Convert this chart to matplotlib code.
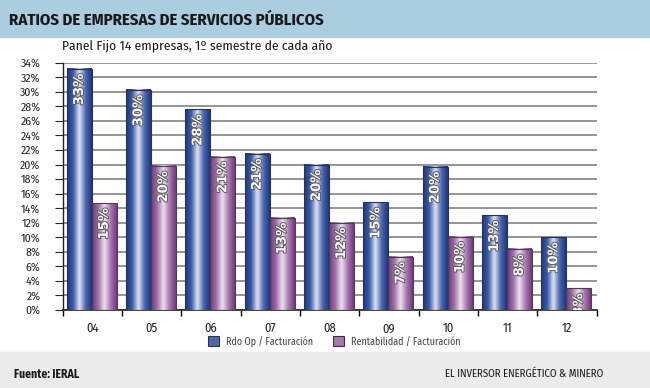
import numpy as np
import matplotlib
matplotlib.use("Agg")
import matplotlib.pyplot as plt
import matplotlib.patheffects as pe
from matplotlib.colors import LinearSegmentedColormap
from matplotlib.patches import Rectangle

years = ["04", "05", "06", "07", "08", "09", "10", "11", "12"]
rdo_op = [33.2, 30.3, 27.6, 21.5, 20.0, 14.8, 19.7, 13.0, 10.0]
rentab = [14.7, 19.8, 21.1, 12.7, 12.0, 7.3, 10.1, 8.4, 3.0]
rdo_labels = ["33%", "30%", "28%", "21%", "20%", "15%", "20%", "13%", "10%"]
rentab_labels = ["15%", "20%", "21%", "13%", "12%", "7%", "10%", "8%", "3%"]

plt.rcParams["font.family"] = ["Fira Sans Condensed", "Roboto Condensed", "DejaVu Sans"]

blue_cmap = LinearSegmentedColormap.from_list(
    "b", ["#1a3787", "#3a5cab", "#dfe3f0", "#4a68b0", "#1a3787"])
purple_cmap = LinearSegmentedColormap.from_list(
    "p", ["#74387f", "#a070a8", "#ece2ee", "#a877b0", "#74387f"])
grad = np.linspace(0, 1, 64).reshape(1, -1)

fig = plt.figure(figsize=(6.5, 3.88), dpi=100)

# header and footer bands
fig.patches.append(Rectangle((0, 1 - 37 / 388), 1, 37 / 388, transform=fig.transFigure,
                             color="#abcde0", zorder=0))
fig.patches.append(Rectangle((0, 0), 1, 36 / 388, transform=fig.transFigure,
                             color="#ebebeb", zorder=0))
fig.text(9 / 650, 1 - 20 / 388, "RATIOS DE EMPRESAS DE SERVICIOS PÚBLICOS",
         fontsize=12, fontweight="bold", color="#1a1a1a", va="center")
fig.text(61.5 / 650, 1 - 46 / 388, "Panel Fijo 14 empresas, 1º semestre de cada año",
         fontsize=9.8, color="#1a1a1a", va="center")
fig.text(14 / 650, 1 - 374 / 388, "Fuente: IERAL", fontsize=8.4, fontweight="bold",
         color="#1a1a1a", va="center")
fig.text(603 / 650, 1 - 374 / 388, "EL INVERSOR ENERGÉTICO & MINERO", fontsize=7.8,
         color="#1a1a1a", va="center", ha="right")

ax = fig.add_axes([62.7 / 650, 1 - 310 / 388, 533.8 / 650, 247.3 / 388])

x = np.arange(len(years))
w = 0.42
bars1 = ax.bar(x - w / 2 - 0.01, rdo_op, w, facecolor="none", edgecolor="#333333",
               linewidth=0.8, zorder=4)
bars2 = ax.bar(x + w / 2 - 0.01, rentab, w, facecolor="none", edgecolor="#444444",
               linewidth=0.8, zorder=4)

for bars, cmap, labels in [(bars1, blue_cmap, rdo_labels), (bars2, purple_cmap, rentab_labels)]:
    for b, lab in zip(bars, labels):
        x0, h, bw = b.get_x(), b.get_height(), b.get_width()
        ax.imshow(grad, cmap=cmap, extent=[x0, x0 + bw, 0, h], aspect="auto",
                  zorder=3, interpolation="bilinear")
        ax.text(x0 + bw / 2, h - 0.7, lab, rotation=90, ha="center", va="top",
                fontsize=9.5, fontweight="bold", color="white", zorder=5,
                family=["DejaVu Sans"], clip_on=True,
                path_effects=[pe.withStroke(linewidth=1.4, foreground="#5a5a5a")])

ax.set_xlim(-0.5, len(years) - 0.5)
ax.set_ylim(0, 34)

ax.set_yticks(np.arange(0, 35, 2))
ax.set_yticklabels([f"{v}%" for v in range(0, 35, 2)])
ax.yaxis.grid(True, color="#8c8c8c", linewidth=1.3, zorder=1)
ax.set_axisbelow(True)
ax.tick_params(axis="y", length=6, width=0.8, labelsize=8.5, colors="#222222", pad=10)

ax.set_xticks(x)
ax.set_xticklabels(years)
ax.set_xticks(np.arange(-0.5, len(years), 1), minor=True)
ax.tick_params(axis="x", which="major", length=0, labelsize=9, colors="#222222", pad=9)
ax.tick_params(axis="x", which="minor", length=4, width=1)

for s in ["top", "right"]:
    ax.spines[s].set_visible(False)
ax.spines["left"].set_color("#222222")
ax.spines["bottom"].set_color("#222222")
ax.spines["left"].set_linewidth(1)
ax.spines["bottom"].set_linewidth(1.2)

handles = [Rectangle((0, 0), 1, 1, facecolor="#4a68b0", edgecolor="#333333", linewidth=0.8),
           Rectangle((0, 0), 1, 1, facecolor="#a877b0", edgecolor="#333333", linewidth=0.8)]
fig.legend(handles, ["Rdo Op / Facturación", "Rentabilidad / Facturación"],
           loc="center", bbox_to_anchor=(334 / 650, 1 - 341 / 388), ncol=2,
           frameon=False, fontsize=7.2, labelcolor="#444444", handlelength=1.1,
           handleheight=1.2, handletextpad=0.7, columnspacing=2.0)

fig.savefig("out.png", dpi=100)
